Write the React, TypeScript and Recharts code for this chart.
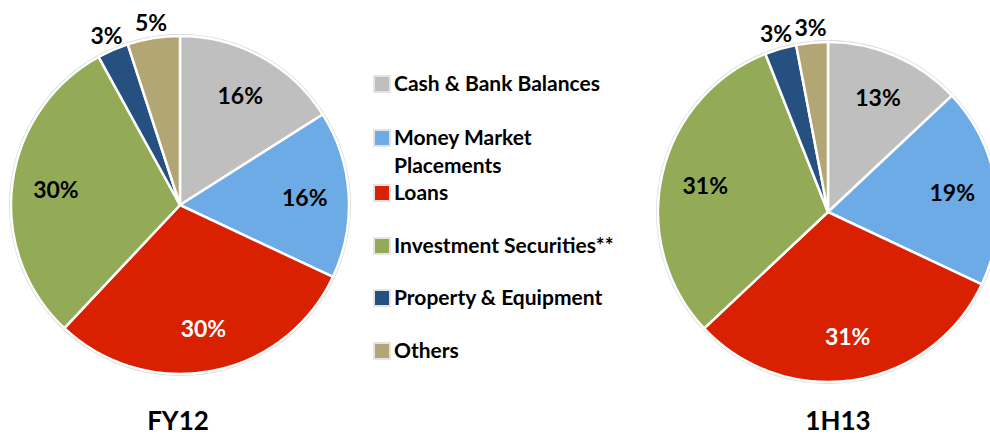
import { PieChart, Pie, Cell } from 'recharts';

const CATEGORIES = [
  'Cash & Bank Balances',
  'Money Market Placements',
  'Loans',
  'Investment Securities**',
  'Property & Equipment',
  'Others',
];
const COLORS = ['#BFBFBF', '#6DABE6', '#D92000', '#93AB57', '#25507F', '#B3A675'];
const FY12_VALUES = [16, 16, 30, 30, 3, 5];
const H113_VALUES = [13, 19, 31, 31, 3, 3];
const PERIODS = ['FY12', '1H13'];

const FONT = 'Lato, "Liberation Sans", sans-serif';
const RAD = Math.PI / 180;
const NO_MARGIN = { top: 0, right: 0, bottom: 0, left: 0 };

const toData = (values: number[]) => values.map((v, i) => ({ name: CATEGORIES[i], value: v }));

function renderLabel(props: any) {
  const { cx, cy, midAngle, outerRadius, value, index } = props;
  const small = value < 6;
  const r = small ? outerRadius + 16 : outerRadius * 0.74;
  const x = cx + r * Math.cos(-midAngle * RAD);
  const y = cy + r * Math.sin(-midAngle * RAD);
  return (
    <text
      x={x}
      y={y}
      textAnchor="middle"
      dominantBaseline="central"
      fill={index === 2 ? '#FFFFFF' : '#000000'}
      style={{ fontFamily: FONT, fontWeight: 700, fontSize: 23 }}
    >
      {value}%
    </text>
  );
}

function AssetPie({ values, cx, cy, r }: { values: number[]; cx: number; cy: number; r: number }) {
  const data = toData(values);
  return (
    <>
      {/* thin grey rim behind the slices */}
      <Pie
        data={[{ value: 1 }]}
        dataKey="value"
        cx={cx}
        cy={cy}
        outerRadius={r + 2}
        fill="#D9D9D9"
        stroke="none"
        isAnimationActive={false}
      />
      <Pie
        data={data}
        dataKey="value"
        cx={cx}
        cy={cy}
        outerRadius={r}
        startAngle={90}
        endAngle={-270}
        stroke="#FFFFFF"
        strokeWidth={2.5}
        label={renderLabel}
        labelLine={false}
        isAnimationActive={false}
      >
        {data.map((_, i) => (
          <Cell key={i} fill={COLORS[i]} />
        ))}
      </Pie>
    </>
  );
}

const LEGEND_TOPS = [74, 128, 183, 236, 288, 341];

export default function App() {
  return (
    <div style={{ position: 'absolute', left: 0, top: 0, width: 990, height: 435, background: '#FFFFFF', overflow: 'hidden', fontFamily: FONT }}>
      <div style={{ position: 'absolute', left: 0, top: 0 }}>
        <PieChart width={360} height={400} margin={NO_MARGIN}>
          <AssetPie values={FY12_VALUES} cx={180} cy={205} r={169} />
        </PieChart>
      </div>
      <div style={{ position: 'absolute', left: 640, top: 0 }}>
        <PieChart width={350} height={400} margin={NO_MARGIN}>
          <AssetPie values={H113_VALUES} cx={188} cy={212} r={170} />
        </PieChart>
      </div>

      {/* Legend */}
      {CATEGORIES.map((name, i) => (
        <div key={name} style={{ position: 'absolute', left: 373, top: LEGEND_TOPS[i], display: 'flex', alignItems: 'flex-start' }}>
          <div style={{ width: 14, height: 14, marginTop: 1, background: COLORS[i], border: '2px solid #E4E4E4', flexShrink: 0 }} />
          <div style={{ marginLeft: 3, width: i === 1 ? 170 : 270, fontSize: 21, fontWeight: 700, lineHeight: '28px', marginTop: -5, color: '#000' }}>
            {name}
          </div>
        </div>
      ))}

      {/* Period titles */}
      <div style={{ position: 'absolute', left: 128, top: 406, width: 100, textAlign: 'center', fontSize: 26, fontWeight: 700, lineHeight: '28px' }}>{PERIODS[0]}</div>
      <div style={{ position: 'absolute', left: 788, top: 406, width: 100, textAlign: 'center', fontSize: 26, fontWeight: 700, lineHeight: '28px' }}>{PERIODS[1]}</div>
    </div>
  );
}
